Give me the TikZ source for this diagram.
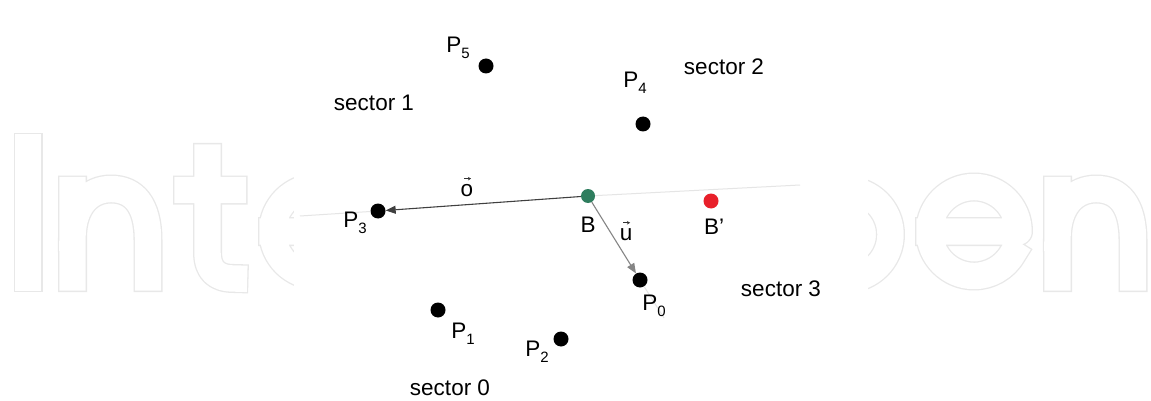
\documentclass[tikz,border=0pt]{standalone}
\usepackage{fontspec}
\setmainfont{Liberation Sans}
\usetikzlibrary{arrows.meta}
\definecolor{bgreen}{HTML}{2E7D5E}
\definecolor{bred}{HTML}{E8202A}
\definecolor{wmgray}{HTML}{E8E8E8}
\newcommand\Psub[1]{P\raisebox{-6pt}{\fontsize{15}{15}\selectfont #1}}
\begin{document}
\begin{tikzpicture}[x=1pt,y=-1pt,
  dot/.style={circle,fill=black,minimum size=15pt,inner sep=0pt},
  lbl/.style={font=\fontsize{22.5}{26}\selectfont,inner sep=0pt},
  wm/.style={draw=wmgray,line width=1.3pt,double=white,double distance=26.4pt,line cap=rect,line join=round},
  faint/.style={draw=black!10,line width=1pt},
  vecline/.style={draw=black!75,line width=1.1pt,-{Triangle[length=10pt,width=8pt]}},
  vecline2/.style={draw=black!48,line width=1.1pt,-{Triangle[length=10pt,width=8pt]}},
  tiny/.style={draw=black!80,line width=0.8pt,-{Stealth[length=3pt,width=3.5pt]}}]
\useasboundingbox (0,0) rectangle (1151,401);
\fill[white] (0,0) rectangle (1151,401);
% watermark
\draw[wm] (28,147.5) -- (28,277.5);
\draw[wm] (72.5,277.5) -- (72.5,190)
  (72.5,238) .. controls (72.5,205) and (90,189) .. (111,189) .. controls (134,189) and (148,205) .. (148,240) -- (148,277.5);
\draw[wm] (207.5,157.5) -- (207.5,252) .. controls (207.5,271) and (217,278.5) .. (234,278.5)
  (187.5,190) -- (233,190);
\draw[wm] (272.5,231.5) -- (361.5,231.5) arc[start angle=0,end angle=-330,radius=44.5];
\draw[wm] (846,234.5) circle[radius=44.5];
\draw[wm] (929.5,231.5) -- (1018.5,231.5) arc[start angle=0,end angle=-330,radius=44.5];
\draw[wm] (1057.5,277.5) -- (1057.5,190)
  (1057.5,238) .. controls (1057.5,205) and (1075,189) .. (1096,189) .. controls (1119,189) and (1133,205) .. (1133,240) -- (1133,277.5);
\fill[white] (294,0) rectangle (868,401);
% points
\node[dot] (P5) at (486,66) {};
\node[dot] (P4) at (643,124) {};
\node[dot] (P3) at (378,211) {};
\node[dot] (P0) at (640,280) {};
\node[dot] (P1) at (438,310) {};
\node[dot] (P2) at (561,339) {};
\node[dot,fill=bgreen,minimum size=14pt] (B) at (588,196) {};
\node[dot,fill=bred] (Bp) at (711,201) {};
\coordinate (E3) at (300,216);
\coordinate (E0) at (664,318);
\coordinate (ER) at (800,185);
\draw[faint] (B) -- (ER);
\draw[faint] (P3) -- (E3);
\draw[faint] (P0) -- (E0);
\draw[vecline] (B) -- (P3);
\draw[vecline2] (B) -- (P0);
% labels
\node[lbl] (lP5) at (458,48) {\Psub{5}};
\node[lbl] (lP4) at (635,83) {\Psub{4}};
\node[lbl] (lP3) at (355,223) {\Psub{3}};
\node[lbl] (lP0) at (654,306) {\Psub{0}};
\node[lbl] (lP1) at (463,334) {\Psub{1}};
\node[lbl] (lP2) at (537,352) {\Psub{2}};
\node[lbl] (lB) at (588,225) {B};
\node[lbl] (lBp) at (714,227) {B'};
\node[lbl] (lo) at (467,191) {o};
\node[lbl] (lu) at (626,235) {u};
\draw[tiny] ([xshift=-3pt,yshift=6pt]lo.north) -- ([xshift=4pt,yshift=6pt]lo.north);
\draw[tiny] ([xshift=-3pt,yshift=6pt]lu.north) -- ([xshift=4pt,yshift=6pt]lu.north);
\node[lbl] (s1) at (374,103) {sector 1};
\node[lbl] (s2) at (724,67) {sector 2};
\node[lbl] (s3) at (781,289) {sector 3};
\node[lbl] (s0) at (450,388) {sector 0};
\end{tikzpicture}
\end{document}
